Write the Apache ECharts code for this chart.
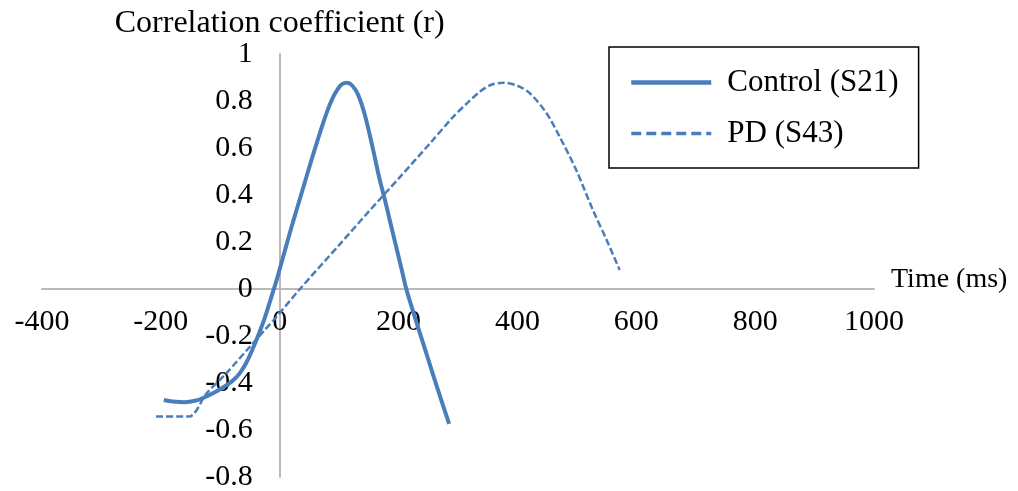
<!DOCTYPE html>
<html>
<head>
<meta charset="utf-8">
<script src="https://cdn.jsdelivr.net/npm/echarts@6/dist/echarts.min.js"></script>
<style>
html,body{margin:0;padding:0;background:#fff;}
#chart{width:1018px;height:491px;}
</style>
</head>
<body>
<div id="chart"></div>
<script>
// ---- data ----
const controlName = 'Control (S21)';
const controlX = [-195, -175, -160, -140, -126, -110, -95, -80, -67, -55, -45, -35, -25, -15, -5, 0, 10, 20, 30, 40, 50, 60, 70, 80, 90, 98, 105, 113, 122, 132, 142, 152, 160, 168, 177, 185, 195, 205, 213, 225, 236, 250, 265, 285];
const controlY = [-0.472, -0.480, -0.482, -0.474, -0.460, -0.440, -0.418, -0.392, -0.358, -0.308, -0.252, -0.190, -0.122, -0.042, 0.040, 0.085, 0.175, 0.265, 0.350, 0.435, 0.520, 0.603, 0.682, 0.757, 0.818, 0.852, 0.872, 0.878, 0.866, 0.826, 0.752, 0.650, 0.560, 0.468, 0.380, 0.295, 0.190, 0.085, 0.000, -0.100, -0.189, -0.300, -0.420, -0.574];

const pdName = 'PD (S43)';
const pdX = [-208, -153, -123, -90, -50, -25, -6, 34, 100, 150, 200, 253, 292, 315, 337, 355, 376, 400, 421, 449, 471, 499, 527, 550, 572];
const pdY = [-0.543, -0.543, -0.444, -0.359, -0.245, -0.174, -0.120, 0.000, 0.187, 0.330, 0.470, 0.620, 0.733, 0.790, 0.840, 0.868, 0.878, 0.865, 0.833, 0.748, 0.648, 0.506, 0.336, 0.209, 0.081];

const xMin = -400, xMax = 1000, xStep = 200;
const yMin = -0.8, yMax = 1, yStep = 0.2;
const xAxisTitle = 'Time (ms)';
const yAxisTitle = 'Correlation coefficient (r)';

// ---- layout / style ----
const W = 1018, H = 491;
const gridL = 42, gridR = 144, gridT = 54, gridB = 14;
const gridW = W - gridL - gridR, gridH = H - gridT - gridB;
// axes cross at (0, 0): shift each axis from its grid edge to the zero line
const xAxisOffset = -gridH * (0 - yMin) / (yMax - yMin);
const yAxisOffset = -gridW * (0 - xMin) / (xMax - xMin);

const font = "'Liberation Serif', 'Times New Roman', serif";
const blue = '#4a7ebb';
const axisGray = '#b9b9b9';
const zip = (xs, ys) => xs.map((x, i) => [x, ys[i]]);

const chart = echarts.init(document.getElementById('chart'), null, {renderer: 'canvas'});
chart.setOption({
  animation: false,
  backgroundColor: '#ffffff',
  textStyle: {fontFamily: font, color: '#000'},
  grid: {left: gridL, right: gridR, top: gridT, bottom: gridB, containLabel: false, outerBoundsMode: 'none'},
  legend: {
    orient: 'vertical',
    left: 609,
    top: 47,
    padding: [20, 20, 19, 20],
    itemGap: 20,
    itemWidth: 80,
    itemHeight: 14,
    borderColor: '#000',
    borderWidth: 1.5,
    itemStyle: {opacity: 0},
    textStyle: {fontFamily: font, fontSize: 31, color: '#000', padding: [0, 0, 0, 11]},
    data: [
      {name: controlName, lineStyle: {width: 4.5, type: 'solid'}},
      {name: pdName, lineStyle: {width: 3.5, type: [10, 5]}}
    ]
  },
  xAxis: {
    type: 'value',
    min: xMin, max: xMax, interval: xStep,
    position: 'bottom',
    offset: xAxisOffset,
    name: xAxisTitle,
    nameLocation: 'end',
    nameGap: 17,
    nameTextStyle: {fontFamily: font, fontSize: 28, color: '#000', verticalAlign: 'bottom', padding: [0, 0, -5, 0]},
    axisLine: {onZero: false, lineStyle: {color: axisGray, width: 2}},
    axisTick: {show: false},
    splitLine: {show: false},
    axisLabel: {fontFamily: font, fontSize: 30, color: '#000', margin: 18, formatter: v => String(v)}
  },
  yAxis: {
    type: 'value',
    min: yMin, max: yMax, interval: yStep,
    position: 'left',
    offset: yAxisOffset,
    name: yAxisTitle,
    nameLocation: 'end',
    nameGap: 6,
    nameTextStyle: {fontFamily: font, fontSize: 32, color: '#000'},
    axisLine: {show: true, onZero: false, lineStyle: {color: axisGray, width: 2}},
    axisTick: {show: false},
    splitLine: {show: false},
    axisLabel: {fontFamily: font, fontSize: 30, color: '#000', margin: 27, formatter: v => String(Math.round(v * 10) / 10)}
  },
  series: [
    {
      name: controlName,
      type: 'line',
      data: zip(controlX, controlY),
      symbol: 'none',
      smooth: 0.4,
      lineStyle: {color: blue, width: 4, type: 'solid'},
      itemStyle: {color: blue}
    },
    {
      name: pdName,
      type: 'line',
      data: zip(pdX, pdY),
      symbol: 'none',
      smooth: 0.3,
      lineStyle: {color: blue, width: 2.5, type: [7, 3]},
      itemStyle: {color: blue}
    }
  ]
});
</script>
</body>
</html>
